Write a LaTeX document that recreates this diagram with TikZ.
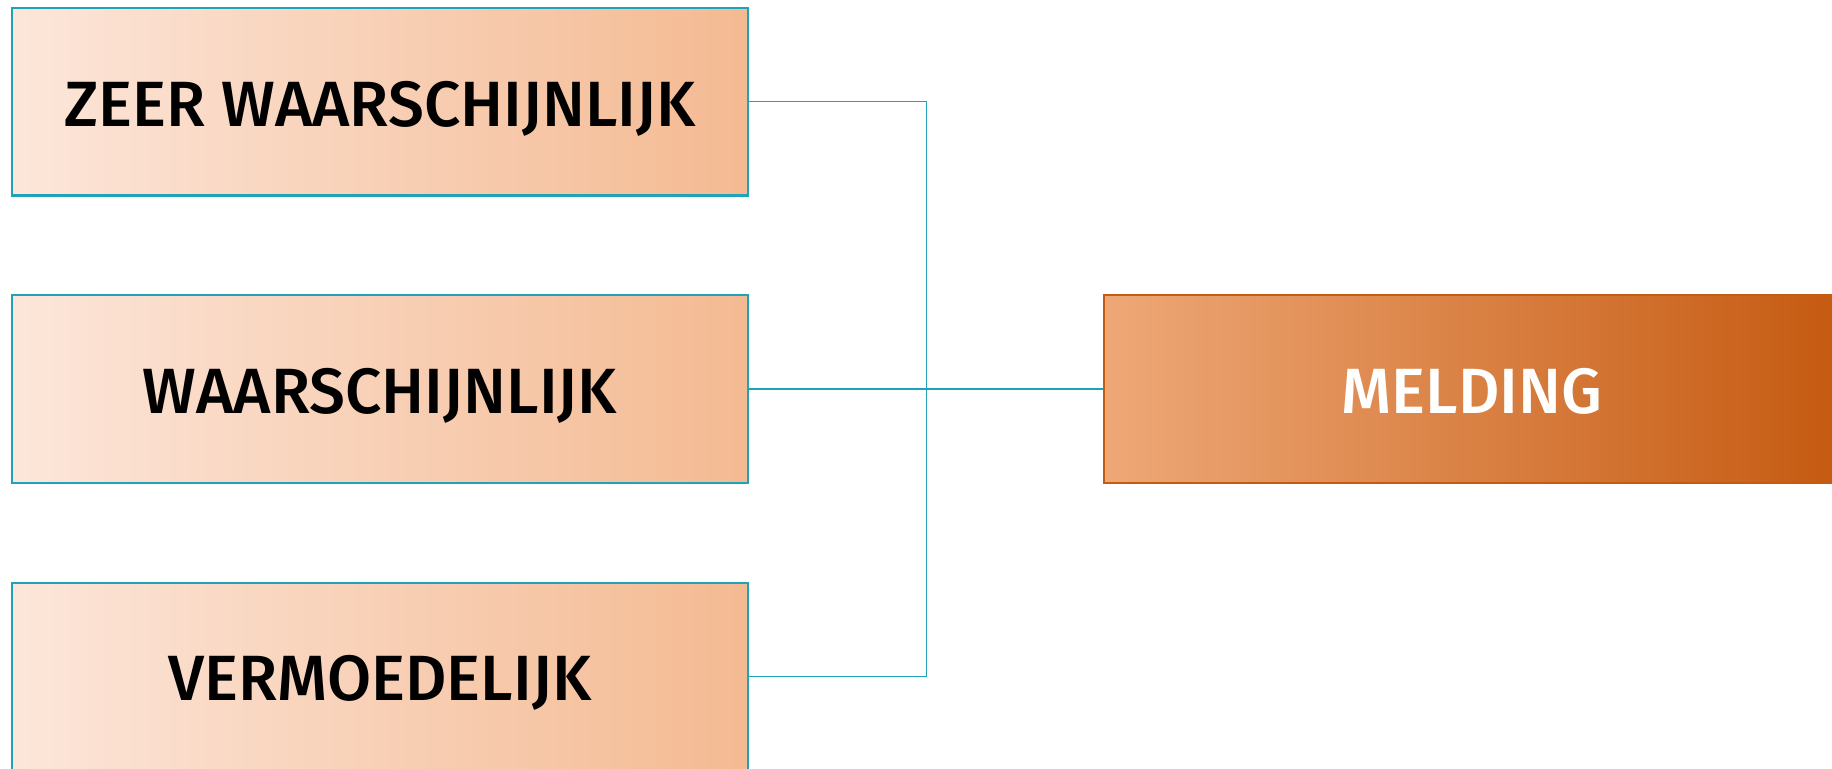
\documentclass[tikz,border=0pt]{standalone}
\usepackage{fontspec}
\setmainfont{Fira Sans Medium}
\definecolor{tealline}{HTML}{1FA3B8}
\definecolor{peachL}{HTML}{FCE6DA}
\definecolor{peachR}{HTML}{F4BA92}
\definecolor{rustL}{HTML}{EEA877}
\definecolor{rustR}{HTML}{C55A11}
\tikzset{
  px/.style={x=0.5pt,y=-0.5pt},
  boxbase/.style={line width=1.2pt, minimum width=368pt, minimum height=93.75pt,
    inner sep=0pt, text height=24.4pt, text depth=0pt,
    font=\fontsize{32}{36}\selectfont},
  levelbox/.style={boxbase, draw=tealline, left color=peachL, right color=peachR, text=black},
  resultbox/.style={boxbase, draw=rustR, left color=rustL, right color=rustR, text=white},
  link/.style={draw=tealline, line width=0.7pt}
}
\begin{document}
\begin{tikzpicture}[px]
  \useasboundingbox (0,0) rectangle (1832,768);
  \clip (0,0) rectangle (1832,768);
  % three likelihood levels on the left
  \node[levelbox] (zeer) at (380,101.75) {ZEER WAARSCHIJNLIJK};
  \node[levelbox] (waar) at (380,389) {WAARSCHIJNLIJK};
  \node[levelbox] (verm) at (380,676.5) {VERMOEDELIJK};
  % outcome on the right, running past the page edge
  \node[resultbox] (meld) at (1472,389) {MELDING};
  % bracket joining the levels into one line to the outcome
  \coordinate (join) at (926.7,389);
  \draw[link] (zeer.east) -| (join);
  \draw[link] (verm.east) -| (join);
  \draw[link] (waar.east) -- (join);
  \draw[link, line width=0.9pt] (join) -- (meld.west);
\end{tikzpicture}
\end{document}
